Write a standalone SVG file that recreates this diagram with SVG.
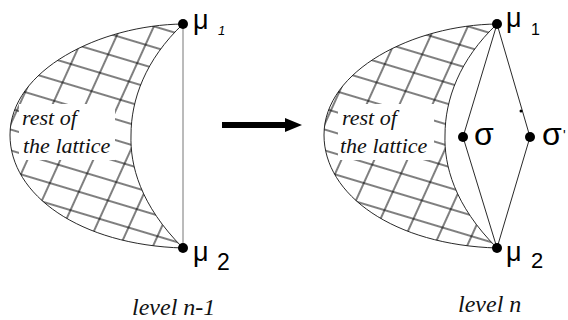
<svg xmlns="http://www.w3.org/2000/svg" width="568" height="320" viewBox="0 0 568 320">
<style>
.outline{fill:none;stroke:#111;stroke-width:0.9}
.edge{fill:none;stroke:#111;stroke-width:0.9}
.vline{fill:none;stroke:#777;stroke-width:1}
.dot{fill:#000}
.it{font-family:'Liberation Serif','Times New Roman',Times,'DejaVu Serif',serif;font-style:italic;fill:#111}
.sym{font-family:'Liberation Sans',Arial,sans-serif;fill:#000}
</style>
<defs>
<pattern id="hA" patternUnits="userSpaceOnUse" width="40" height="20" patternTransform="rotate(16.7)">
<line x1="0" y1="1" x2="40" y2="1" stroke="#000" stroke-width="1"/>
</pattern>
<pattern id="hB" patternUnits="userSpaceOnUse" width="40" height="30" patternTransform="rotate(-65.6)">
<line x1="0" y1="1" x2="40" y2="1" stroke="#000" stroke-width="1"/>
</pattern>
<path id="cres" d="M183,24 C100,25 10,70 10,135 C10,195 80,245 183,248 C140,205 130,165 131,135 C131,100 145,60 183,24 Z"/>
</defs>

<g id="left-lattice">
<use href="#cres" fill="url(#hA)"/>
<use href="#cres" fill="url(#hB)"/>
<rect x="19" y="104" width="96" height="56" fill="#fff"/>
<use href="#cres" class="outline"/>
<text class="it" x="22" y="125" font-size="22">rest of</text>
<text class="it" x="23" y="153" font-size="22">the lattice</text>
</g>

<g id="right-lattice" transform="translate(314,0)">
<use href="#cres" fill="url(#hA)"/>
<use href="#cres" fill="url(#hB)"/>
<rect x="24" y="104" width="96" height="56" fill="#fff"/>
<use href="#cres" class="outline"/>
<text class="it" x="28" y="125" font-size="22">rest of</text>
<text class="it" x="26" y="153" font-size="22">the lattice</text>
</g>

<g id="connectors">
<line class="vline" x1="183" y1="24" x2="183" y2="248"/>
<polyline class="edge" points="497,24 463,137 497,248"/>
<polyline class="edge" points="497,24 530,137 497,248"/>
<circle cx="521" cy="111" r="1.5" fill="#000"/>
<path d="M222,122 L285,122 L285,118 L302,125 L285,132 L285,128 L222,128 Z" fill="#000"/>
</g>

<g id="mu1-left"><circle class="dot" cx="183" cy="24" r="5"/><text class="sym" x="193" y="29" font-size="27">μ</text><text class="sym" x="218" y="35" font-size="13" font-style="italic">1</text></g>
<g id="mu2-left"><circle class="dot" cx="183" cy="248" r="5"/><text class="sym" x="193" y="261" font-size="27">μ</text><text class="sym" x="217" y="270" font-size="23">2</text></g>
<g id="mu1-right"><circle class="dot" cx="497" cy="24" r="5"/><text class="sym" x="506" y="27" font-size="27">μ</text><text class="sym" x="531" y="35" font-size="16">1</text></g>
<g id="mu2-right"><circle class="dot" cx="497" cy="248" r="5"/><text class="sym" x="506" y="261" font-size="27">μ</text><text class="sym" x="531" y="268" font-size="22">2</text></g>
<g id="sigma"><circle class="dot" cx="463" cy="137" r="5"/><text class="sym" x="474" y="145" font-size="32">σ</text></g>
<g id="sigma-prime"><circle class="dot" cx="530" cy="137" r="5"/><text class="sym" x="542" y="145" font-size="32">σ</text><text class="sym" x="563" y="140" font-size="14">'</text></g>

<text class="it" x="132" y="315" font-size="24">level n-1</text>
<text class="it" x="458" y="312" font-size="24">level n</text>
</svg>
